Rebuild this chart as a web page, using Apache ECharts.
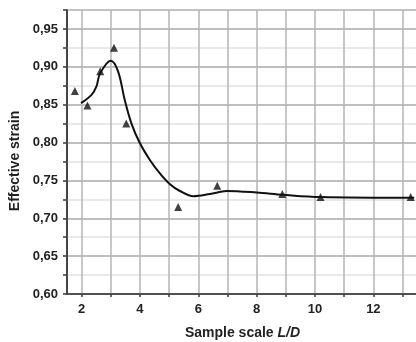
<!DOCTYPE html>
<html>
<head>
<meta charset="utf-8">
<script src="https://cdn.jsdelivr.net/npm/echarts@6/dist/echarts.min.js"></script>
<style>html,body{margin:0;padding:0;background:#fff}#c{width:416px;height:342px}</style>
</head>
<body>
<div id="c"></div>
<script>
// Measured points (triangles)
var pointX = [1.77, 2.20, 2.64, 3.11, 3.53, 5.31, 6.65, 8.88, 10.19, 13.28];
var pointY = [0.868, 0.849, 0.894, 0.925, 0.825, 0.715, 0.743, 0.732, 0.728, 0.728];
// Fitted curve
var curveX = [1.98, 2.34, 2.51, 2.63, 3.00, 3.25, 3.48, 3.71, 4.00, 4.34, 4.69, 5.03, 5.37, 5.83, 6.40, 6.97, 8.00, 8.91, 10.19, 13.40];
var curveY = [0.852, 0.863, 0.874, 0.891, 0.908, 0.894, 0.856, 0.825, 0.799, 0.777, 0.759, 0.745, 0.736, 0.729, 0.732, 0.736, 0.734, 0.731, 0.728, 0.727];
var xTicks = [2, 3, 4, 5, 6, 7, 8, 9, 10, 11, 12, 13];
var xLabels = [2, 4, 6, 8, 10, 12];
var yLabels = [0.60, 0.65, 0.70, 0.75, 0.80, 0.85, 0.90, 0.95];

var font = 'Liberation Sans, Arial, Helvetica, sans-serif';
var chart = echarts.init(document.getElementById('c'), null, {renderer: 'canvas'});
function zip(a, b) { return a.map(function (v, i) { return [v, b[i]]; }); }

chart.setOption({
  animation: false,
  backgroundColor: '#fff',
  grid: {left: 67, right: -2, top: 10, bottom: 48, show: true, borderColor: '#3a3a3a', borderWidth: 1.5,
    containLabel: false, outerBoundsMode: 'none'},
  xAxis: {
    type: 'value', min: 1.5, max: 13.53,
    name: 'Sample scale {i|L/D}', nameLocation: 'middle', nameGap: 32,
    nameTextStyle: {fontFamily: font, fontWeight: 'bold', fontSize: 14, color: '#222',
      rich: {i: {fontFamily: font, fontWeight: 'bold', fontStyle: 'italic', fontSize: 14, color: '#222'}}},
    axisLine: {lineStyle: {color: '#3a3a3a', width: 1.5}},
    axisTick: {show: true, inside: false, length: 3, customValues: xTicks, lineStyle: {color: '#3a3a3a', width: 1.5}},
    axisLabel: {fontFamily: font, fontWeight: 'bold', fontSize: 13, color: '#222', margin: 9,
      customValues: xLabels},
    splitLine: {show: true, lineStyle: {color: '#b4b4b4', width: 1.5}}
  },
  yAxis: {
    type: 'value', min: 0.6, max: 0.975, interval: 0.025,
    name: 'Effective strain', nameLocation: 'middle', nameGap: 41, nameRotate: 90,
    nameTextStyle: {fontFamily: font, fontWeight: 'bold', fontSize: 14, color: '#222', padding: [0, 18, 0, 0]},
    axisLine: {lineStyle: {color: '#3a3a3a', width: 1.5}},
    axisTick: {show: true, inside: false, length: 4, lineStyle: {color: '#3a3a3a', width: 1.5}},
    axisLabel: {fontFamily: font, fontWeight: 'bold', fontSize: 13, color: '#222', margin: 9,
      formatter: function (v) {
        var r = Math.round(v * 1000) / 1000;
        for (var i = 0; i < yLabels.length; i++) if (Math.abs(yLabels[i] - r) < 1e-6) return r.toFixed(2).replace('.', ',');
        return '';
      }},
    splitLine: {show: true, lineStyle: {color: ['#a8a8a8', '#e2e2e2'], width: 1.5}}
  },
  series: [
    {type: 'line', data: zip(curveX, curveY), smooth: 0.35, showSymbol: false, symbol: 'none',
     lineStyle: {color: '#111', width: 2}, z: 3},
    {type: 'scatter', data: zip(pointX, pointY), symbol: 'triangle', symbolSize: 8,
     itemStyle: {color: '#111'}, z: 4}
  ]
});
</script>
</body>
</html>
